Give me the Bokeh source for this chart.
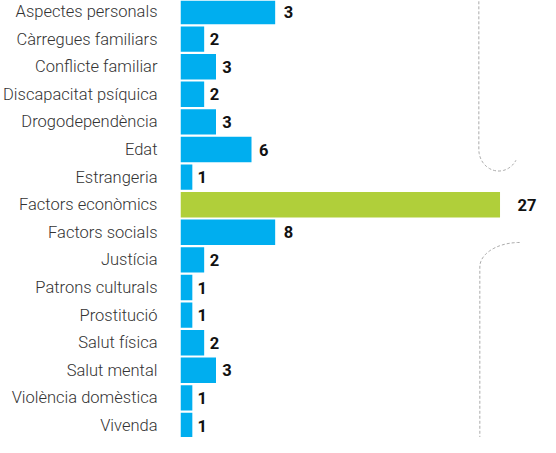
import numpy as np
from bokeh.plotting import figure
from bokeh.models import Range1d, ColumnDataSource, FixedTicker
from bokeh.core.properties import value
from bokeh.embed import file_html
from bokeh.resources import INLINE

# ---- data ----
categories = ["Aspectes personals", "Càrregues familiars", "Conflicte familiar",
              "Discapacitat psíquica", "Drogodependència", "Edat", "Estrangeria",
              "Factors econòmics", "Factors socials", "Justícia", "Patrons culturals",
              "Prostitució", "Salut física", "Salut mental", "Violència domèstica",
              "Vivenda"]
label_values = [3, 2, 3, 2, 3, 6, 1, 27, 8, 2, 1, 1, 2, 3, 1, 1]
bar_lengths = [8, 2, 3, 2, 3, 6, 1, 27, 8, 2, 1, 1, 2, 3, 1, 1]
highlight = "Factors econòmics"

BLUE = "#00AEEF"
GREEN = "#B0CF3A"

W, H = 540, 437
LEFT = 178
PX_X = 11.9     # px per unit
PX_Y = 27.6     # px per row
ROW0 = 11       # canvas y of first row centre

x_end = (W - LEFT) / PX_X
y_top = -ROW0 / PX_Y
y_bot = y_top + H / PX_Y

p = figure(width=W, height=H, output_backend="svg", toolbar_location=None,
           x_range=Range1d(0, x_end), y_range=Range1d(y_bot, y_top),
           min_border_left=LEFT, min_border_right=0, min_border_top=0,
           min_border_bottom=0, outline_line_color=None)
p.background_fill_color = "white"
p.border_fill_color = "white"
p.grid.visible = False
p.xaxis.visible = False

ys = list(range(len(categories)))
colors = [GREEN if c == highlight else BLUE for c in categories]
src = ColumnDataSource(dict(y=ys, right=bar_lengths, color=colors,
                            lab=[str(v) for v in label_values],
                            lx=[b * 1.04 + 0.4 for b in bar_lengths]))
p.hbar(y="y", left=0, right="right", height=0.92, color="color", line_color=None, source=src)
p.text(x="lx", y="y", text="lab", source=src, text_font=value("Roboto"),
       text_font_style="bold", text_font_size="16.5px", text_color="#111111",
       text_baseline="middle", text_align="left")

yax = p.yaxis[0]
yax.ticker = FixedTicker(ticks=ys)
yax.major_label_overrides = {i: c for i, c in enumerate(categories)}
yax.axis_line_color = None
yax.major_tick_line_color = None
yax.minor_tick_line_color = None
yax.major_label_text_font = "Roboto Light"
yax.major_label_text_font_size = "16.5px"
yax.major_label_text_color = "#333333"
yax.major_label_standoff = 17

# decorative dashed bracket (reference page px -> data)
def cx(page_x):
    return (page_x - 8 - LEFT) / PX_X

def ry(page_y):
    return (page_y - 22) / 28.2

t1 = np.linspace(np.pi, np.pi / 6, 30)
top_x = [cx(486), cx(486)] + [cx(506 + 20 * np.cos(t)) for t in t1]
top_y = [-2, ry(163)] + [ry(163 + 22 * np.sin(t)) for t in t1]
t2 = np.linspace(-np.pi / 2, -np.pi, 30)
bot_x = [cx(527 + 40 * np.cos(t)) for t in t2] + [cx(487), cx(487)]
bot_y = [ry(283 + 25 * np.sin(t)) for t in t2] + [ry(283), 18]
for xs_, ys_ in ((top_x, top_y), (bot_x, bot_y)):
    p.line(xs_, ys_, line_color="#AAAAAA", line_width=1, line_dash="3 2")

open("out.html", "w").write(file_html(p, INLINE))
